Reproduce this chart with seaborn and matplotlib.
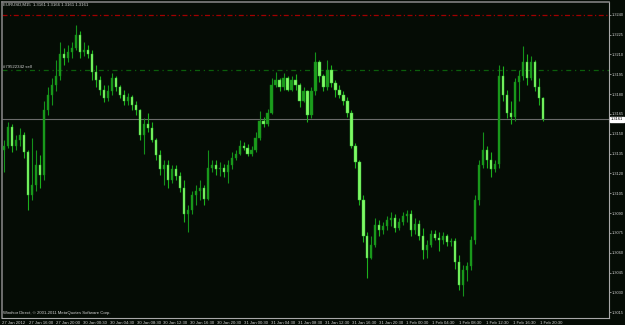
import numpy as np
import matplotlib
matplotlib.use("Agg")
import matplotlib.pyplot as plt
import matplotlib.transforms as mtransforms
import seaborn as sns

# ---------------- data (EURUSD) ----------------
open_ = [1.3138, 1.3141, 1.3155, 1.3141, 1.3145, 1.3149, 1.3136, 1.3104, 1.3111, 1.3126,
         1.3119, 1.3168, 1.3179, 1.3187, 1.3194, 1.3210, 1.3207, 1.3212, 1.3215, 1.3225,
         1.3212, 1.3213, 1.3210, 1.3197, 1.3191, 1.3183, 1.3177, 1.3182, 1.3192, 1.3185,
         1.3179, 1.3175, 1.3178, 1.3172, 1.3168, 1.3149, 1.3157, 1.3154, 1.3145, 1.3134,
         1.3123, 1.3126, 1.3115, 1.3123, 1.3118, 1.3109, 1.3089, 1.3092, 1.3104, 1.3107,
         1.3109, 1.3101, 1.3124, 1.3126, 1.3123, 1.3124, 1.3121, 1.3126, 1.3132, 1.3135,
         1.3141, 1.3139, 1.3135, 1.3138, 1.3147, 1.3160, 1.3157, 1.3166, 1.3187, 1.3191,
         1.3185, 1.3192, 1.3183, 1.3191, 1.3187, 1.3175, 1.3182, 1.3164, 1.3182, 1.3204,
         1.3194, 1.3185, 1.3198, 1.3188, 1.3183, 1.3179, 1.3175, 1.3166, 1.3141, 1.3129,
         1.3100, 1.3073, 1.3056, 1.3066, 1.3081, 1.3077, 1.3080, 1.3085, 1.3086, 1.3079,
         1.3083, 1.3088, 1.3089, 1.3077, 1.3082, 1.3073, 1.3062, 1.3066, 1.3074, 1.3071,
         1.3070, 1.3073, 1.3068, 1.3069, 1.3053, 1.3036, 1.3047, 1.3050, 1.3070, 1.3100,
         1.3126, 1.3138, 1.3130, 1.3123, 1.3127, 1.3194, 1.3179, 1.3166, 1.3163, 1.3189,
         1.3194, 1.3204, 1.3192, 1.3204, 1.3185, 1.3177]
high = [1.3145, 1.3159, 1.3157, 1.3149, 1.3154, 1.3151, 1.3138, 1.3147, 1.3138, 1.3134,
        1.3175, 1.3185, 1.3192, 1.3206, 1.3219, 1.3215, 1.3217, 1.3219, 1.3232, 1.3228,
        1.3219, 1.3217, 1.3213, 1.3202, 1.3194, 1.3187, 1.3187, 1.3196, 1.3194, 1.3187,
        1.3183, 1.3181, 1.3179, 1.3175, 1.3169, 1.3162, 1.3166, 1.3159, 1.3147, 1.3138,
        1.3130, 1.3130, 1.3126, 1.3126, 1.3121, 1.3115, 1.3096, 1.3107, 1.3111, 1.3115,
        1.3111, 1.3138, 1.3130, 1.3130, 1.3129, 1.3127, 1.3130, 1.3136, 1.3138, 1.3145,
        1.3144, 1.3142, 1.3141, 1.3151, 1.3167, 1.3163, 1.3169, 1.3192, 1.3197, 1.3192,
        1.3196, 1.3194, 1.3194, 1.3195, 1.3188, 1.3185, 1.3183, 1.3185, 1.3212, 1.3206,
        1.3195, 1.3206, 1.3202, 1.3191, 1.3187, 1.3182, 1.3178, 1.3168, 1.3143, 1.3130,
        1.3104, 1.3076, 1.3073, 1.3086, 1.3085, 1.3083, 1.3088, 1.3091, 1.3089, 1.3086,
        1.3091, 1.3092, 1.3092, 1.3086, 1.3085, 1.3079, 1.3070, 1.3077, 1.3077, 1.3076,
        1.3076, 1.3074, 1.3071, 1.3071, 1.3058, 1.3051, 1.3053, 1.3073, 1.3104, 1.3130,
        1.3151, 1.3141, 1.3136, 1.3130, 1.3202, 1.3201, 1.3183, 1.3175, 1.3192, 1.3198,
        1.3216, 1.3210, 1.3209, 1.3206, 1.3192, 1.3178]
low = [1.3121, 1.3139, 1.3136, 1.3138, 1.3141, 1.3132, 1.3092, 1.3100, 1.3107, 1.3109,
       1.3115, 1.3164, 1.3172, 1.3182, 1.3191, 1.3202, 1.3204, 1.3207, 1.3213, 1.3207,
       1.3209, 1.3207, 1.3191, 1.3185, 1.3179, 1.3174, 1.3175, 1.3179, 1.3182, 1.3177,
       1.3172, 1.3172, 1.3168, 1.3164, 1.3145, 1.3135, 1.3151, 1.3144, 1.3130, 1.3119,
       1.3111, 1.3109, 1.3113, 1.3115, 1.3106, 1.3083, 1.3076, 1.3089, 1.3096, 1.3100,
       1.3096, 1.3100, 1.3121, 1.3119, 1.3118, 1.3117, 1.3113, 1.3123, 1.3130, 1.3134,
       1.3138, 1.3133, 1.3133, 1.3136, 1.3145, 1.3155, 1.3156, 1.3165, 1.3185, 1.3182,
       1.3183, 1.3182, 1.3182, 1.3183, 1.3170, 1.3174, 1.3159, 1.3162, 1.3179, 1.3189,
       1.3182, 1.3183, 1.3185, 1.3178, 1.3177, 1.3172, 1.3163, 1.3139, 1.3124, 1.3096,
       1.3068, 1.3041, 1.3055, 1.3064, 1.3073, 1.3074, 1.3077, 1.3080, 1.3076, 1.3077,
       1.3081, 1.3083, 1.3073, 1.3074, 1.3070, 1.3055, 1.3056, 1.3064, 1.3070, 1.3061,
       1.3067, 1.3065, 1.3065, 1.3048, 1.3032, 1.3027, 1.3039, 1.3047, 1.3067, 1.3096,
       1.3124, 1.3124, 1.3117, 1.3121, 1.3124, 1.3175, 1.3162, 1.3157, 1.3160, 1.3175,
       1.3191, 1.3187, 1.3191, 1.3182, 1.3172, 1.3160]
close = [1.3141, 1.3155, 1.3141, 1.3145, 1.3149, 1.3136, 1.3104, 1.3111, 1.3126, 1.3119,
         1.3168, 1.3179, 1.3187, 1.3194, 1.3210, 1.3207, 1.3212, 1.3215, 1.3225, 1.3212,
         1.3213, 1.3210, 1.3197, 1.3191, 1.3183, 1.3177, 1.3182, 1.3192, 1.3185, 1.3179,
         1.3175, 1.3178, 1.3172, 1.3168, 1.3149, 1.3157, 1.3154, 1.3145, 1.3134, 1.3123,
         1.3126, 1.3115, 1.3123, 1.3118, 1.3109, 1.3089, 1.3092, 1.3104, 1.3107, 1.3109,
         1.3101, 1.3124, 1.3126, 1.3123, 1.3124, 1.3121, 1.3126, 1.3132, 1.3135, 1.3141,
         1.3139, 1.3135, 1.3138, 1.3147, 1.3160, 1.3157, 1.3166, 1.3187, 1.3191, 1.3185,
         1.3192, 1.3183, 1.3191, 1.3187, 1.3175, 1.3182, 1.3164, 1.3182, 1.3204, 1.3194,
         1.3185, 1.3198, 1.3188, 1.3183, 1.3179, 1.3175, 1.3166, 1.3141, 1.3129, 1.3100,
         1.3073, 1.3056, 1.3066, 1.3081, 1.3077, 1.3080, 1.3085, 1.3086, 1.3079, 1.3083,
         1.3088, 1.3089, 1.3077, 1.3082, 1.3073, 1.3062, 1.3066, 1.3074, 1.3071, 1.3070,
         1.3073, 1.3068, 1.3069, 1.3053, 1.3036, 1.3047, 1.3050, 1.3070, 1.3100, 1.3126,
         1.3138, 1.3130, 1.3123, 1.3127, 1.3194, 1.3179, 1.3166, 1.3163, 1.3189, 1.3194,
         1.3204, 1.3192, 1.3204, 1.3185, 1.3177, 1.3161]

price_ticks = [1.3015, 1.3030, 1.3045, 1.3060, 1.3075, 1.3090, 1.3105, 1.3120,
               1.3135, 1.3150, 1.3165, 1.3180, 1.3195, 1.3210, 1.3225, 1.3240]
time_labels = ["27 Jan 2012", "27 Jan 16:00", "27 Jan 20:00", "30 Jan 00:30", "30 Jan 04:30",
               "30 Jan 08:30", "30 Jan 12:30", "30 Jan 16:30", "30 Jan 20:30", "31 Jan 00:30",
               "31 Jan 04:30", "31 Jan 08:30", "31 Jan 12:30", "31 Jan 16:30", "31 Jan 20:30",
               "1 Feb 00:30", "1 Feb 04:30", "1 Feb 08:30", "1 Feb 12:30", "1 Feb 16:30",
               "1 Feb 20:30"]
take_profit = 1.3240
order_price = 1.3198
order_label = "#79522342 sell"
title = "EURUSD,M15  1.3161 1.3166 1.3161 1.3161"
copyright_text = "Windsor Direct, \u00a9 2001-2011 MetaQuotes Software Corp."

# ---------------- style ----------------
BG = "#050c05"
sns.set_theme(style="dark", rc={"axes.facecolor": BG, "figure.facecolor": BG,
                                "axes.grid": False})
plt.rcParams["font.family"] = ["Liberation Sans", "DejaVu Sans"]
TXT = "#d2d2d2"
FS = 3.1
YFS = 2.8

o = np.array(open_); h = np.array(high); l = np.array(low); c = np.array(close)
n = len(c)
x = np.arange(n)
bull = c >= o

fig = plt.figure(figsize=(6.25, 3.25), dpi=100)
ax = fig.add_axes([2 / 625, 7 / 325, 607 / 625, 316 / 325])
ax.set_facecolor(BG)

# wicks
ax.vlines(x, l, h, colors=np.where(bull, "#14921a", "#1cb01c"), lw=0.8, zorder=2)
# bodies
body = np.maximum(np.abs(c - o), 0.00006)
ax.bar(x, body, bottom=np.minimum(o, c), width=0.55,
       color=np.where(bull, "#1c9c1c", "#80f866"),
       edgecolor=np.where(bull, "#128c18", "#38c838"), linewidth=0.3, zorder=3)

ax.set_xlim(-0.25, 151.5)
ax.set_ylim(1.30107, 1.32496)

tr = mtransforms.blended_transform_factory(ax.transAxes, ax.transData)

# reference lines
ax.axhline(take_profit, color="#a00000", lw=0.9, ls=(0, (4, 2, 1, 2)), zorder=1)
ax.axhline(order_price, color="#0b5f0b", lw=0.9, ls=(0, (4, 3, 1, 3)), zorder=1)
ax.axhline(c[-1], color="#6a6a6a", lw=0.8, zorder=1)
ax.text(0.002, order_price + 0.00008, order_label, transform=tr,
        fontsize=FS, color=TXT, ha="left", va="bottom")

# price box for the last close
ax.text(1.003, c[-1], f"{c[-1]:.4f}", transform=tr,
        fontsize=YFS, color="black", ha="left", va="center", zorder=6, clip_on=False,
        bbox=dict(boxstyle="square,pad=0.12", fc="white", ec="white"))

# axes / ticks
ax.yaxis.tick_right()
ax.set_yticks(price_ticks)
ax.set_yticklabels([f"{v:.4f}" for v in price_ticks])
step = 26.95 / 4
ax.set_xticks([-0.5 + k * step for k in range(len(time_labels))])
ax.set_xticklabels(time_labels, ha="left")
ax.tick_params(axis="both", colors="#a0a0a0", labelcolor=TXT,
               length=1.5, width=0.6, direction="out")
ax.tick_params(axis="y", labelsize=YFS, pad=0.6)
ax.tick_params(axis="x", labelsize=FS, pad=0.6)
for s in ["left", "top"]:
    ax.spines[s].set_color("#808080"); ax.spines[s].set_linewidth(1.2)
for s in ["right", "bottom"]:
    ax.spines[s].set_color("#a8a8a8"); ax.spines[s].set_linewidth(0.8)
    ax.spines[s].set_visible(True)

fig.text(3 / 625, 1 - 4.5 / 325, title, fontsize=FS, color=TXT, ha="left", va="center")
ax.text(0.002, 0.017, copyright_text, transform=ax.transAxes, fontsize=FS, color=TXT,
        ha="left", va="center")

fig.savefig("out.png", dpi=100, facecolor=BG)
